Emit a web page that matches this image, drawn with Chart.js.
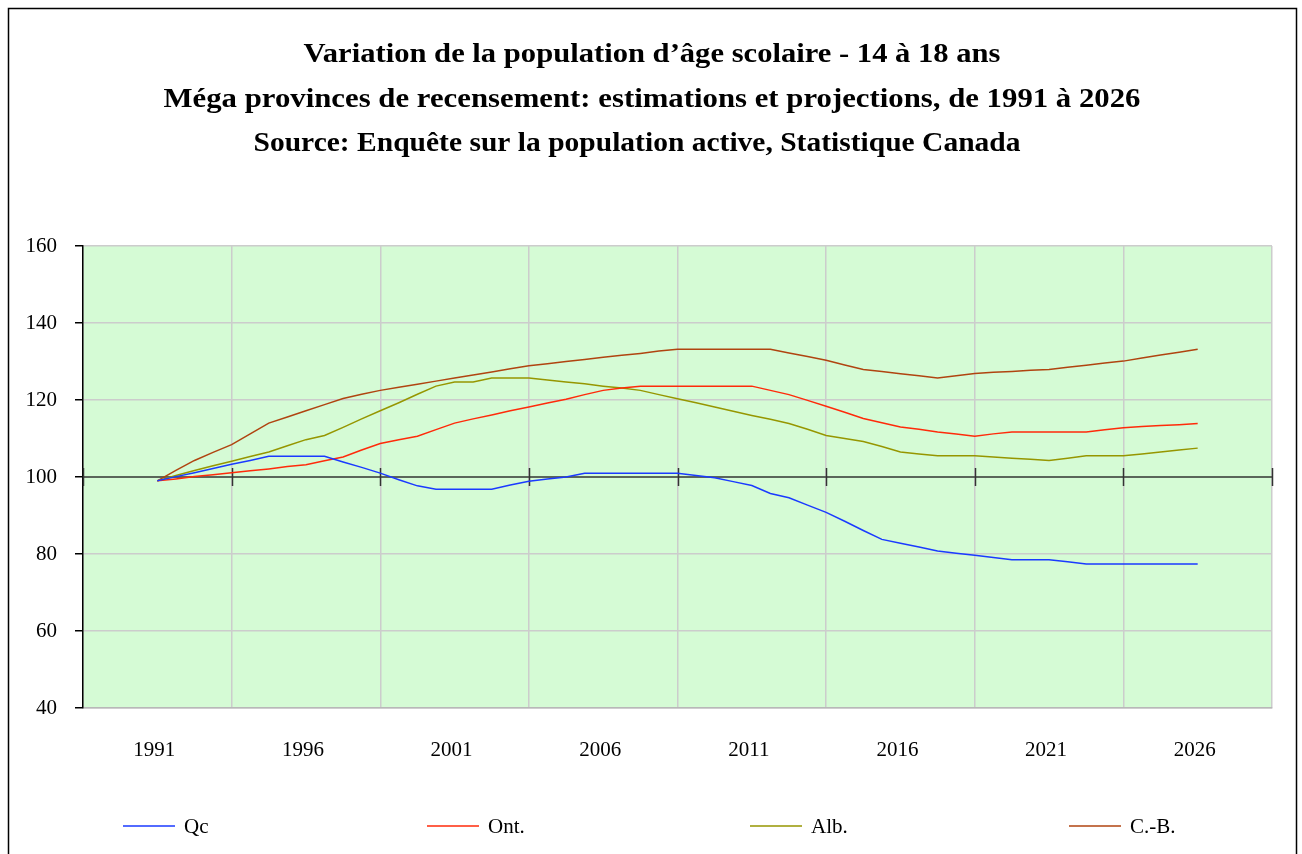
<!DOCTYPE html>
<html>
<head>
<meta charset="utf-8">
<script src="https://cdn.jsdelivr.net/npm/chart.js@4/dist/chart.umd.min.js"></script>
<style>
  html, body { margin: 0; padding: 0; background: #ffffff; }
  #wrap { position: relative; width: 1302px; height: 854px; }
  canvas { display: block; }
</style>
</head>
<body>
<div id="wrap"><canvas id="c" width="1302" height="854"></canvas></div>
<script>
// ---- Data ----
const titleLines = [
  'Variation de la population d\u2019âge scolaire - 14 à 18 ans',
  'Méga provinces de recensement: estimations et projections, de 1991 à 2026',
  'Source: Enquête sur la population active, Statistique Canada'
];
const yearLabels = ['1991', '1996', '2001', '2006', '2011', '2016', '2021', '2026'];
const seriesNames = ['Qc', 'Ont.', 'Alb.', 'C.-B.'];

const qc = [99.0, 100.1, 101.1, 102.2, 103.3, 104.3, 105.4, 105.4, 105.4, 105.4,
  103.9, 102.5, 101.0, 99.3, 97.7, 96.8, 96.8, 96.8, 96.8, 97.9,
  98.9, 99.5, 100.0, 101.0, 101.0, 101.0, 101.0, 101.0, 101.0, 100.4,
  99.8, 98.8, 97.8, 95.7, 94.6, 92.7, 90.8, 88.5, 86.1, 83.8,
  82.8, 81.8, 80.8, 80.2, 79.7, 79.1, 78.5, 78.5, 78.5, 78.0,
  77.4, 77.4, 77.4, 77.4, 77.4, 77.4, 77.4];
const ont = [99.0, 99.5, 100.1, 100.6, 101.1, 101.6, 102.1, 102.7, 103.2, 104.2,
  105.2, 107.0, 108.7, 109.7, 110.6, 112.3, 114.0, 115.1, 116.1, 117.2,
  118.2, 119.2, 120.2, 121.4, 122.5, 123.1, 123.6, 123.6, 123.6, 123.6,
  123.6, 123.6, 123.6, 122.5, 121.4, 119.9, 118.4, 116.8, 115.2, 114.1,
  113.0, 112.4, 111.7, 111.2, 110.6, 111.2, 111.7, 111.7, 111.7, 111.7,
  111.7, 112.3, 112.8, 113.1, 113.4, 113.6, 113.9];
const alb = [99.0, 100.4, 101.7, 102.9, 104.1, 105.3, 106.5, 108.1, 109.7, 110.8,
  112.9, 115.1, 117.2, 119.3, 121.5, 123.6, 124.7, 124.7, 125.7, 125.7,
  125.7, 125.2, 124.7, 124.2, 123.6, 123.1, 122.5, 121.4, 120.3, 119.3,
  118.2, 117.1, 116.0, 115.0, 113.9, 112.4, 110.8, 110.0, 109.2, 107.9,
  106.5, 106.0, 105.5, 105.5, 105.5, 105.2, 104.9, 104.6, 104.3, 104.9,
  105.5, 105.5, 105.5, 106.0, 106.5, 107.0, 107.5];
const cb = [99.0, 101.7, 104.3, 106.4, 108.4, 111.2, 114.0, 115.6, 117.2, 118.8,
  120.4, 121.5, 122.5, 123.3, 124.1, 124.9, 125.7, 126.5, 127.3, 128.1,
  128.9, 129.4, 130.0, 130.5, 131.1, 131.6, 132.1, 132.7, 133.2, 133.2,
  133.2, 133.2, 133.2, 133.2, 132.2, 131.3, 130.3, 129.1, 127.9, 127.4,
  126.8, 126.3, 125.7, 126.3, 126.9, 127.2, 127.4, 127.7, 127.9, 128.5,
  129.0, 129.6, 130.1, 130.9, 131.7, 132.4, 133.2];
const yTicks = [40, 60, 80, 100, 120, 140, 160];

// ---- Styling / layout ----
const colors = ['#1a3aff', '#ff2a0a', '#969600', '#b04410'];
const serif = '"Liberation Serif", "Times New Roman", serif';
const stepsPerLabel = (qc.length - 1) / (yearLabels.length - 1); // points per label band
const xMin = -stepsPerLabel / 2, xMax = (qc.length - 1) + stepsPerLabel / 2;
const boundaryTicks = [];
for (let v = xMin; v <= xMax + 1e-9; v += stepsPerLabel) boundaryTicks.push(v);
const labelTicks = yearLabels.map((_, k) => k * stepsPerLabel);
const legendX = [123, 427, 750, 1069];
const titleWidths = [697, 977, 767];   // rendered width of each title line (layout)
const titleCenterX = [652, 652, 637];
const titleY = [62, 107, 151];

const toPts = arr => arr.map((v, i) => ({ x: i, y: v }));
const allSeries = [qc, ont, alb, cb];

const bgPlugin = {
  id: 'bg',
  beforeDraw(chart) {
    const { ctx, chartArea: a } = chart;
    ctx.save();
    ctx.fillStyle = '#ffffff';
    ctx.fillRect(0, 0, chart.width, chart.height);
    ctx.fillStyle = '#d5fbd5';
    ctx.fillRect(a.left, a.top, a.right - a.left, a.bottom - a.top);
    ctx.restore();
  },
  beforeDatasetsDraw(chart) {
    const { ctx, scales: { x, y } } = chart;
    const y100 = y.getPixelForValue(100);
    ctx.save();
    ctx.strokeStyle = '#5a665a';
    ctx.lineWidth = 2;
    ctx.beginPath();
    ctx.moveTo(x.getPixelForValue(xMin), y100);
    ctx.lineTo(x.getPixelForValue(xMax), y100);
    ctx.stroke();
    ctx.strokeStyle = '#333333';
    ctx.lineWidth = 1.5;
    boundaryTicks.forEach(v => {
      const px = Math.round(x.getPixelForValue(v)) + 0.5;
      ctx.beginPath();
      ctx.moveTo(px, y100 - 9);
      ctx.lineTo(px, y100 + 9);
      ctx.stroke();
    });
    ctx.restore();
  },
  afterDraw(chart) {
    const { ctx } = chart;
    ctx.save();
    // outer frame
    ctx.strokeStyle = '#000000';
    ctx.lineWidth = 1.5;
    ctx.strokeRect(8.5, 8.5, 1288, 870);
    // titles (Palatino-like width: stretch each line horizontally)
    ctx.fillStyle = '#000000';
    ctx.textAlign = 'center';
    ctx.textBaseline = 'alphabetic';
    ctx.font = 'bold 27px ' + serif;
    titleLines.forEach((t, i) => {
      const w = ctx.measureText(t).width;
      ctx.save();
      ctx.translate(titleCenterX[i], titleY[i]);
      ctx.scale(titleWidths[i] / w, 1);
      ctx.fillText(t, 0, 0);
      ctx.restore();
    });
    // legend
    ctx.textAlign = 'left';
    ctx.textBaseline = 'middle';
    ctx.font = '21px ' + serif;
    chart.data.datasets.forEach((ds, i) => {
      const x0 = legendX[i];
      ctx.strokeStyle = ds.borderColor;
      ctx.lineWidth = 1.5;
      ctx.beginPath();
      ctx.moveTo(x0, 826);
      ctx.lineTo(x0 + 52, 826);
      ctx.stroke();
      ctx.fillStyle = '#000000';
      ctx.fillText(ds.label, x0 + 61, 827);
    });
    ctx.restore();
  }
};

new Chart(document.getElementById('c'), {
  type: 'line',
  data: {
    datasets: allSeries.map((arr, i) => ({
      label: seriesNames[i],
      data: toPts(arr),
      borderColor: colors[i],
      backgroundColor: colors[i],
      borderWidth: 1.5,
      pointRadius: 0,
      tension: 0,
      fill: false
    }))
  },
  options: {
    responsive: false,
    animation: false,
    devicePixelRatio: 1,
    layout: { padding: { left: 8, top: 246, right: 29, bottom: 0 } },
    plugins: { legend: { display: false }, title: { display: false }, tooltip: { enabled: false } },
    scales: {
      x: {
        type: 'linear',
        min: xMin,
        max: xMax,
        afterBuildTicks(scale) {
          scale.ticks = boundaryTicks.concat(labelTicks).sort((a, b) => a - b).map(v => ({ value: v }));
        },
        afterFit(scale) { scale.height = 146; },
        ticks: {
          autoSkip: false,
          maxRotation: 0,
          padding: 30,
          labelOffset: -3,
          color: '#000000',
          font: { family: serif, size: 21 },
          callback(value) {
            const k = labelTicks.indexOf(value);
            return k >= 0 ? yearLabels[k] : '';
          }
        },
        grid: {
          drawTicks: false,
          color(ctx) {
            return ctx.tick && boundaryTicks.includes(ctx.tick.value) ? '#cccccc' : 'rgba(0,0,0,0)';
          },
          lineWidth: 1.5
        },
        border: { display: true, color: '#b8b8b8', width: 1.5 }
      },
      y: {
        min: 40,
        max: 160,
        afterBuildTicks(scale) { scale.ticks = yTicks.map(v => ({ value: v })); },
        afterFit(scale) { scale.width = 75; },
        ticks: {
          padding: 18,
          color: '#000000',
          font: { family: serif, size: 21 }
        },
        grid: {
          color: '#cccccc',
          lineWidth: 1.5,
          tickColor: '#000000',
          tickLength: 8,
          drawTicks: true
        },
        border: { display: true, color: '#000000', width: 1.5 }
      }
    }
  },
  plugins: [bgPlugin]
});
</script>
</body>
</html>
